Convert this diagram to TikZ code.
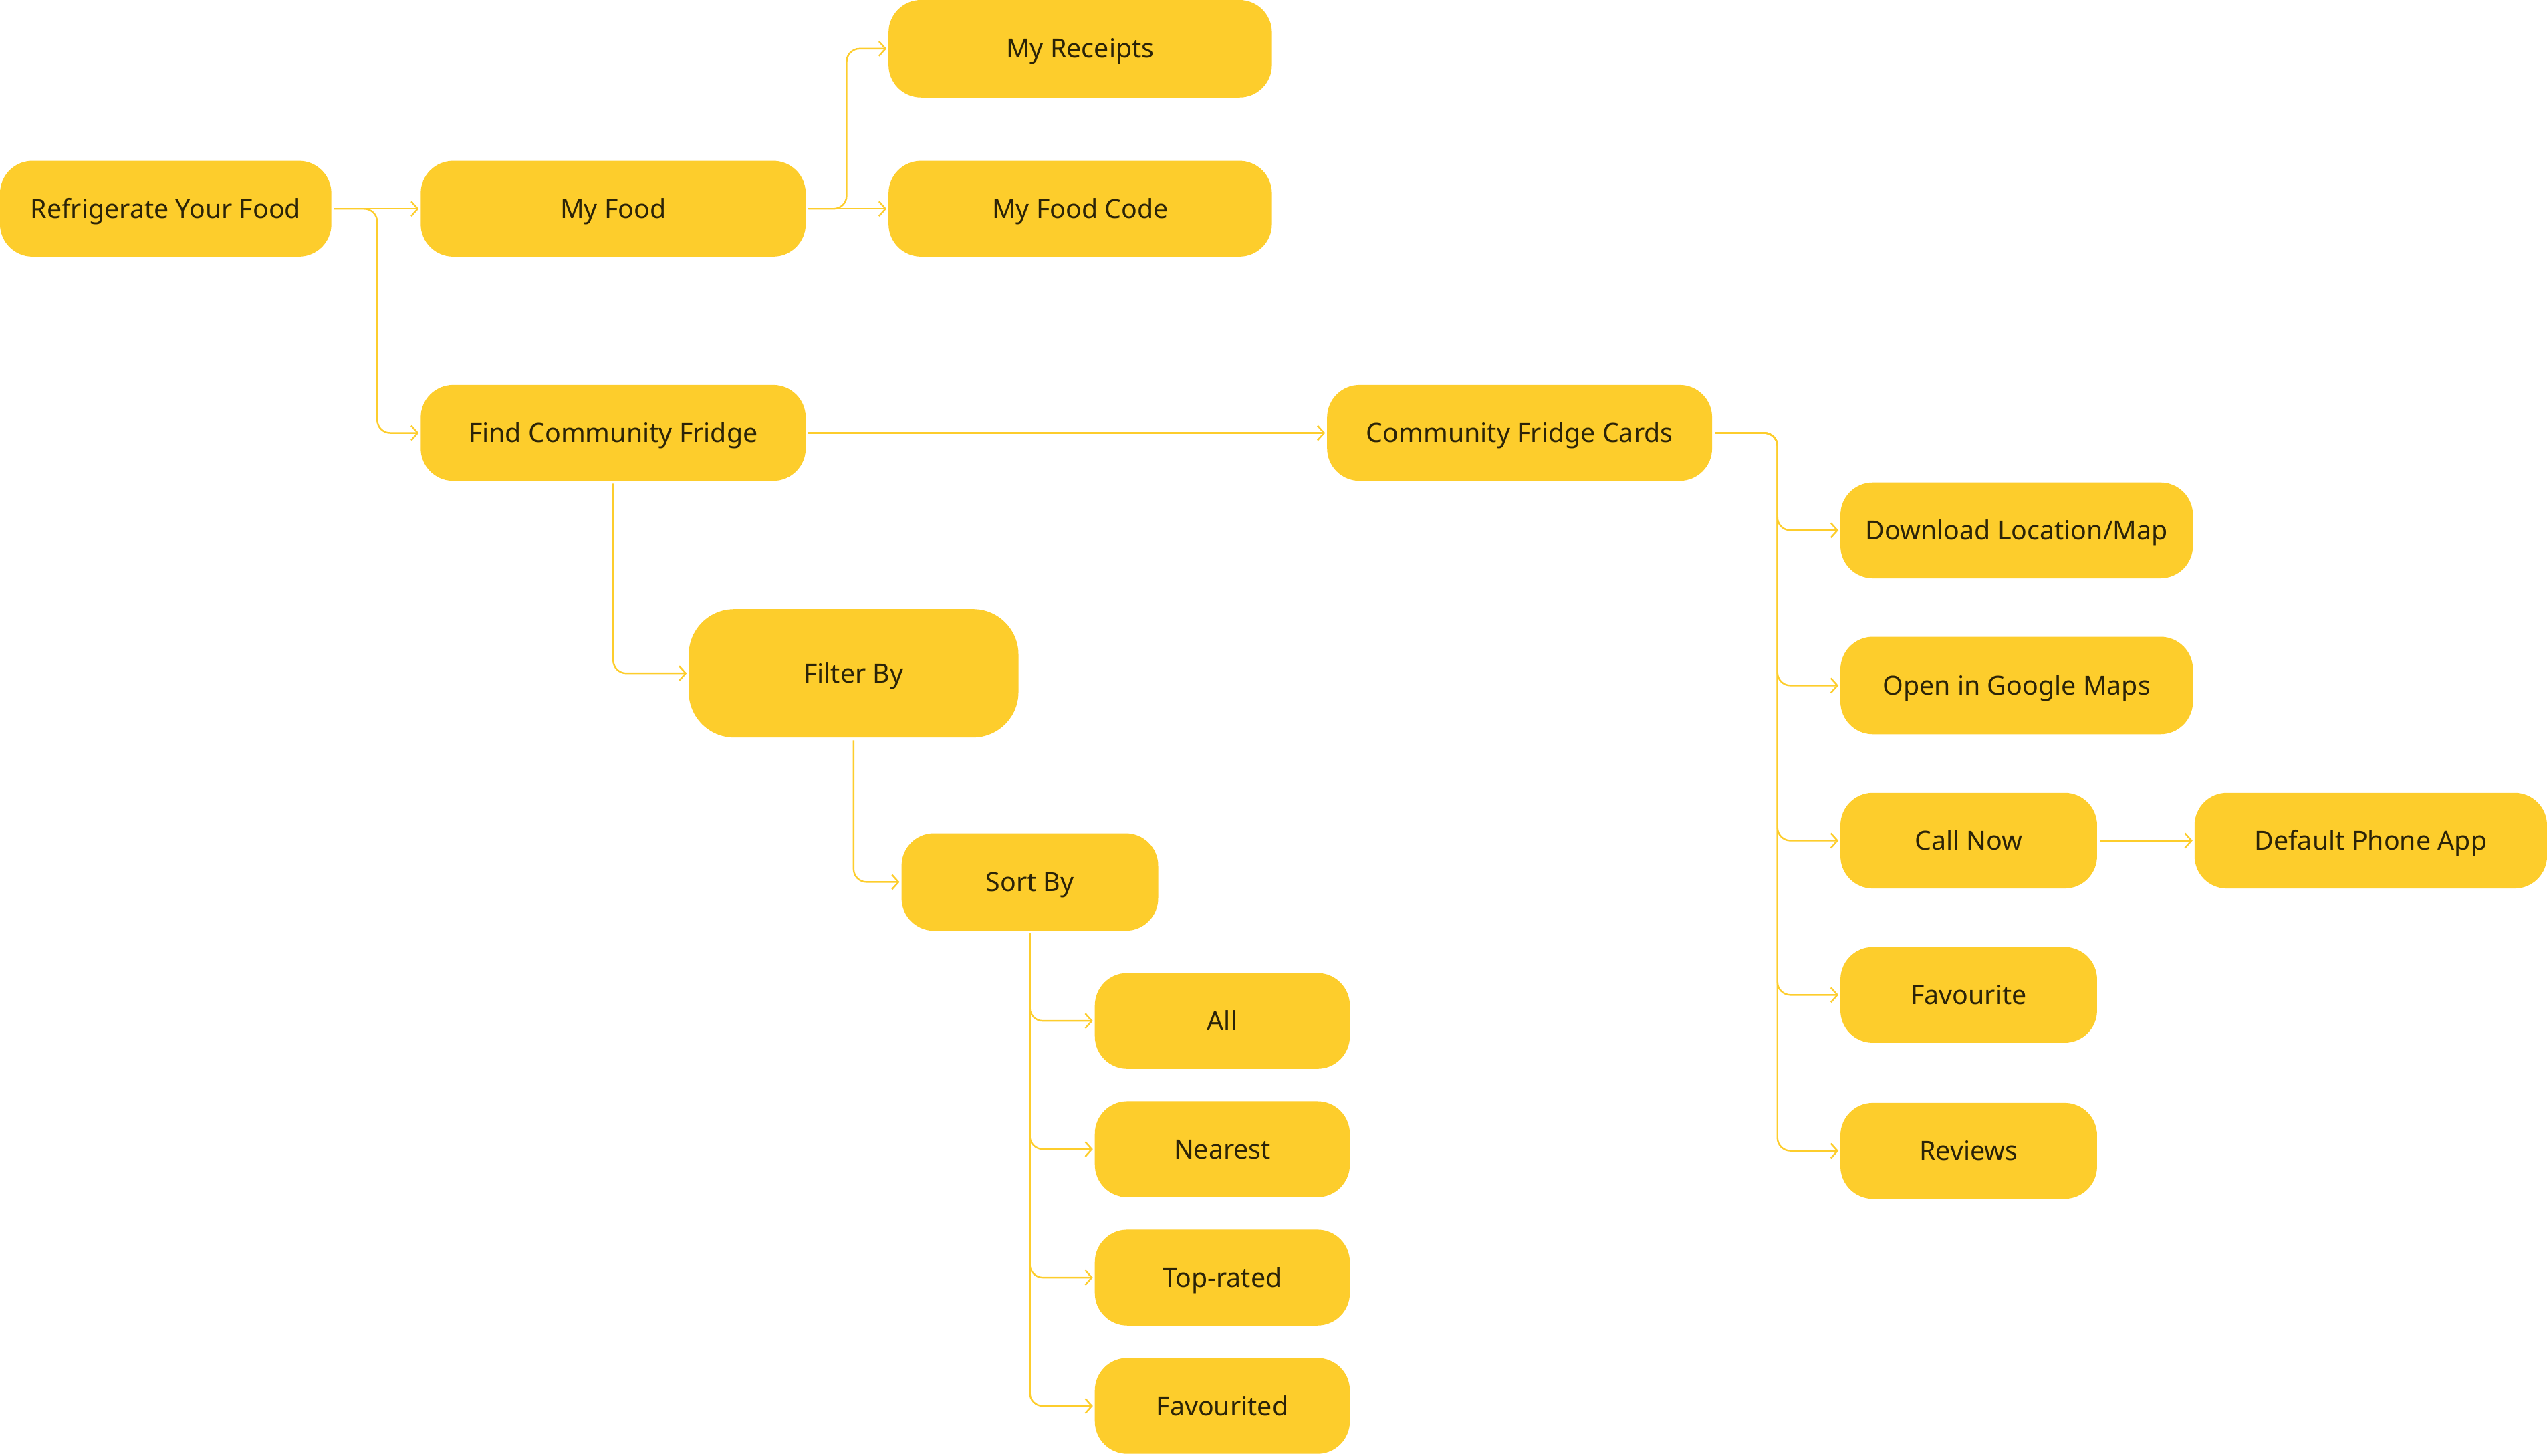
\documentclass[tikz,border=0pt]{standalone}
\usepackage{fontspec}
\setmainfont{Noto Sans}
\usetikzlibrary{arrows.meta}
\definecolor{fc}{HTML}{FDCD2C}
\definecolor{tc}{HTML}{2B2308}
\newcommand{\fsz}{\fontsize{16.2}{19}\selectfont}
\tikzset{
  box/.style={fill=fc, rounded corners=20pt, minimum height=59pt, text=tc, font=\fsz, inner sep=0pt, text height=11.6pt, text depth=0pt},
  conn/.style={draw=fc, line width=1pt, -{Straight Barb[length=4pt,width=9pt]}, rounded corners=8pt, shorten <=1.5pt, shorten >=1pt}
}
\begin{document}
\begin{tikzpicture}[x=1pt,y=-1pt]
\useasboundingbox (0,0) rectangle (1568,896);
\node[box, minimum width=204pt] (rf) at (102,128.5) {Refrigerate Your Food};
\node[box, minimum width=237pt] (mf) at (377.5,128.5) {My Food};
\node[box, minimum width=236pt, minimum height=60pt] (mr) at (665,30) {My Receipts};
\node[box, minimum width=236pt] (mfc) at (665,128.5) {My Food Code};
\node[box, minimum width=237pt] (fcf) at (377.5,266.5) {Find Community Fridge};
\node[box, minimum width=237pt] (cfc) at (935.5,266.5) {Community Fridge Cards};
\node[box, minimum width=203pt, minimum height=79pt, rounded corners=28pt] (fb) at (525.5,414.5) {Filter By};
\node[box, minimum width=158pt, minimum height=60pt] (sb) at (634,543) {Sort By};
\node[box, minimum width=157pt] (all) at (752.5,628.5) {All};
\node[box, minimum width=157pt] (near) at (752.5,707.5) {Nearest};
\node[box, minimum width=157pt] (top) at (752.5,786.5) {Top-rated};
\node[box, minimum width=157pt] (fav) at (752.5,865.5) {Favourited};
\node[box, minimum width=217pt] (dl) at (1241.5,326.5) {Download Location/Map};
\node[box, minimum width=217pt, minimum height=60pt] (og) at (1241.5,422) {Open in Google Maps};
\node[box, minimum width=158pt] (cn) at (1212,517.5) {Call Now};
\node[box, minimum width=217pt] (dp) at (1459.5,517.5) {Default Phone App};
\node[box, minimum width=158pt] (fv) at (1212,612.5) {Favourite};
\node[box, minimum width=158pt] (rv) at (1212,708.5) {Reviews};

\draw[conn] (rf.east) -- (mf.west);
\draw[conn] (rf.east) -- ++(28,0) |- (fcf.west);
\draw[conn] (mf.east) -- ++(25,0) |- (mr.west);
\draw[conn] (mf.east) -- (mfc.west);
\draw[conn] (fcf.east) -- (cfc.west);
\draw[conn] (fcf.south) |- (fb.west);
\draw[conn] (fb.south) |- (sb.west);
\foreach \n in {all,near,top,fav} \draw[conn] (sb.south) |- (\n.west);
\foreach \n in {dl,og,cn,fv,rv} \draw[conn] (cfc.east) -- ++(40,0) |- (\n.west);
\draw[conn] (cn.east) -- (dp.west);
\end{tikzpicture}
\end{document}
